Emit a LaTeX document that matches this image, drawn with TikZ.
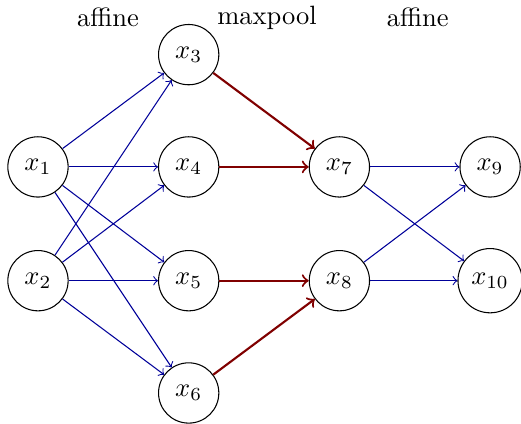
\documentclass[tikz,border=0pt]{standalone}
\usepackage{tikz}
\usetikzlibrary{positioning}

\begin{document}
\begin{tikzpicture}[
  neuron/.style={circle, draw, minimum size=0.8cm, inner sep=0.3333em},
  layer/.style={font=\normalsize},
  affine/.style={->, draw=blue!60!black},
  pool/.style={->, thick, draw=red!50!black}
]
  \useasboundingbox (-0.504,-3.41) rectangle (6.41,2.215);
  % input layer
  \node[neuron] (x1) at (0,0) {$x_1$};
  \node[neuron] (x2) at (0,-1.51) {$x_2$};
  % hidden layer
  \node[neuron] (x3) at (2,1.49) {$x_3$};
  \node[neuron] (x4) at (2,0) {$x_4$};
  \node[neuron] (x5) at (2,-1.51) {$x_5$};
  \node[neuron] (x6) at (2,-3) {$x_6$};
  % pooled layer
  \node[neuron] (x7) at (4,0) {$x_7$};
  \node[neuron] (x8) at (4,-1.51) {$x_8$};
  % output layer
  \node[neuron] (x9) at (6,0) {$x_9$};
  \node[neuron] (x10) at (6,-1.51) {$x_{10}$};

  \node[layer] (l1) at (0.93,1.98) {affine};
  \node[layer] (l2) at (3.04,1.98) {maxpool};
  \node[layer] (l3) at (5.04,1.98) {affine};

  \foreach \i in {x1,x2}
    \foreach \j in {x3,x4,x5,x6}
      \draw[affine] (\i) -- (\j);
  \draw[pool] (x3) -- (x7);
  \draw[pool] (x4) -- (x7);
  \draw[pool] (x5) -- (x8);
  \draw[pool] (x6) -- (x8);
  \foreach \i in {x7,x8}
    \foreach \j in {x9,x10}
      \draw[affine] (\i) -- (\j);
\end{tikzpicture}
\end{document}
